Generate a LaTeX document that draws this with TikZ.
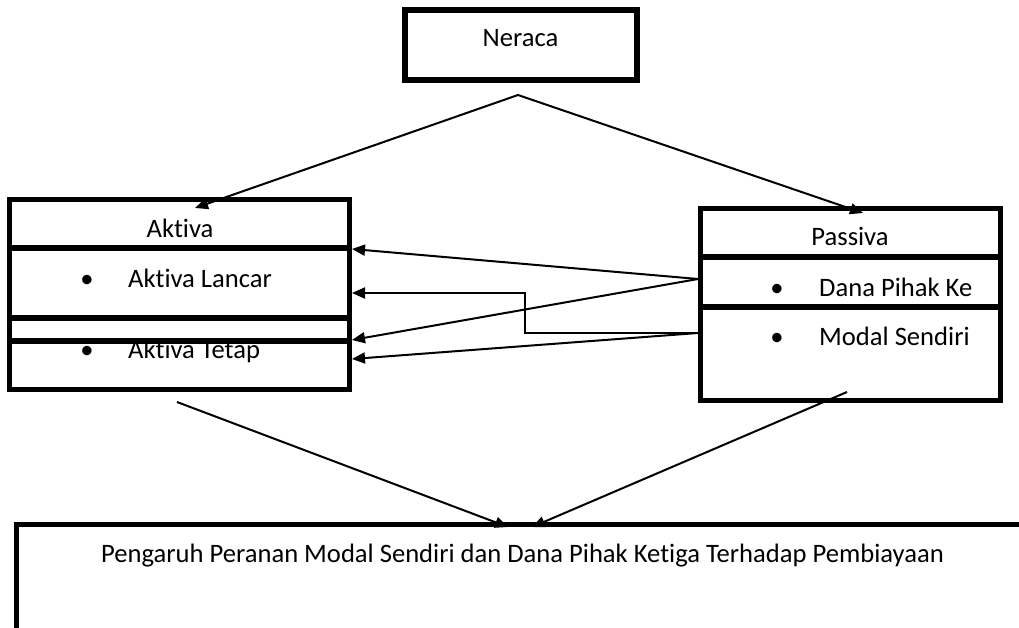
\documentclass[tikz,border=0pt]{standalone}
\usepackage{fontspec}
\setmainfont[Ligatures=NoCommon]{Carlito}
\usetikzlibrary{arrows.meta}
\tikzset{box/.style={rectangle,draw=black,line width=5.5pt,inner sep=0pt,outer sep=2.75pt}}
\tikzset{divider/.style={line width=5.5pt}}
\tikzset{txt/.style={inner sep=0pt,font=\fontsize{26.6}{31}\selectfont}}
\tikzset{toArrow/.style={-{Triangle[length=13pt,width=11pt]},line width=2pt}}
\tikzset{bothArrow/.style={{Triangle[length=13pt,width=11pt]}-{Triangle[length=13pt,width=11pt]},line width=2pt}}

\begin{document}
\begin{tikzpicture}[x=1pt,y=-1pt]
\useasboundingbox (0,0) rectangle (1019,628);
% boxes
\node (neraca) [box, minimum width=232pt, minimum height=70pt] at (521,45) {};
\node (aktiva) [box, minimum width=340pt, minimum height=190pt] at (179.5,294.5) {};
\node (passiva) [box, minimum width=300pt, minimum height=192pt] at (850.5,304.5) {};
\begin{scope}
	\clip (0,0) rectangle (1019,628);
	\node (hasil) [box, minimum width=1012pt, minimum height=140pt] at (522.5,594.5) {};
\end{scope}
\draw [divider] (6.75,248) -- (352.25,248);
\draw [divider] (6.75,318) -- (352.25,318);
\draw [divider] (6.75,341) -- (352.25,341);
\draw [divider] (697.75,257) -- (1003.25,257);
\draw [divider] (697.75,307) -- (1003.25,307);

% texts
\node (tNeraca) [txt, anchor=base] at (520.5,47) {Neraca};
\node (tAktiva) [txt, anchor=base] at (180,238) {Aktiva};
\node (bLancar) [txt, anchor=base] at (87,287) {•};
\node (tLancar) [txt, anchor=base west] at (128,287) {Aktiva Lancar};
\node (bTetap) [txt, anchor=base] at (87,358) {•};
\node (tTetap) [txt, anchor=base west] at (128,358) {Aktiva Tetap};
\node (tPassiva) [txt, anchor=base] at (850,245) {Passiva};
\node (bDana) [txt, anchor=base] at (777,296) {•};
\node (tDana) [txt, anchor=base west] at (819,296) {Dana Pihak Ke};
\node (bModal) [txt, anchor=base] at (777,345) {•};
\node (tModal) [txt, anchor=base west] at (819,345) {Modal Sendiri};
\node (tHasil) [txt, anchor=base] at (522.5,562) {Pengaruh Peranan Modal Sendiri dan Dana Pihak Ketiga Terhadap Pembiayaan};

% connector ends
\coordinate (apex) at (518,95);
\coordinate (aTop) at (195,208);
\coordinate (pTop) at (863,213);
\coordinate (pDana) at (698,279);
\coordinate (pModal) at (698,333);
\coordinate (elbow) at (525,333);
\coordinate (aHead) at (352,249);
\coordinate (aLancar) at (352,293);
\coordinate (aLine) at (352,340);
\coordinate (aTetap) at (352,359);
\coordinate (aBot) at (177,402);
\coordinate (pBot) at (847,392);
\coordinate (hLeft) at (508,527);
\coordinate (hRight) at (532,527);

\draw [bothArrow] (aTop) -- (apex) -- (pTop);
\draw [toArrow] (pDana) -- (aHead);
\draw [toArrow] (pDana) -- (aLine);
\draw [toArrow] (pModal) -- (elbow) |- (aLancar);
\draw [toArrow] (pModal) -- (aTetap);
\draw [toArrow] (aBot) -- (hLeft);
\draw [toArrow] (pBot) -- (hRight);
\end{tikzpicture}
\end{document}
